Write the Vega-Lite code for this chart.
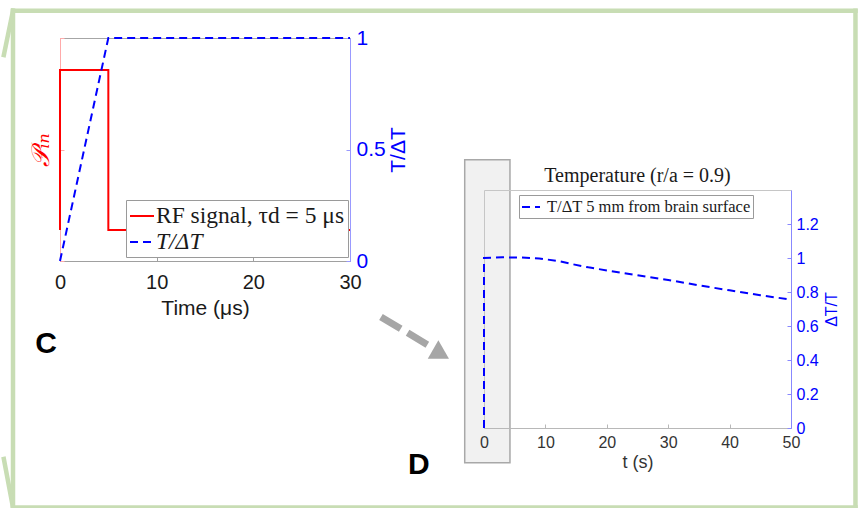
{
  "$schema": "https://vega.github.io/schema/vega-lite/v6.json",
  "background": "white",
  "padding": {"left": 0, "top": 7, "right": 0, "bottom": 0},
  "config": {
    "view": {"stroke": null},
    "axis": {"grid": false, "labelFont": "Liberation Sans", "titleFont": "Liberation Sans", "labelFlush": false, "labelOverlap": false, "titleFontWeight": "normal"}
  },
  "datasets": {
    "rf": [
      {"i": 0, "t": 0, "p": 0.139, "s": "RF signal, τd = 5 μs"},
      {"i": 1, "t": 0, "p": 0.856, "s": "RF signal, τd = 5 μs"},
      {"i": 2, "t": 5, "p": 0.856, "s": "RF signal, τd = 5 μs"},
      {"i": 3, "t": 5, "p": 0.139, "s": "RF signal, τd = 5 μs"},
      {"i": 4, "t": 30, "p": 0.139, "s": "RF signal, τd = 5 μs"}
    ],
    "tc": [
      {"i": 0, "t": 0, "v": 0, "s": "T/ΔT"},
      {"i": 1, "t": 5, "v": 1, "s": "T/ΔT"},
      {"i": 2, "t": 30, "v": 1, "s": "T/ΔT"}
    ],
    "td": [
      {"i": 0, "t": 0, "v": 0, "s": "T/ΔT 5 mm from brain surface"},
      {"i": 1, "t": 0, "v": 1.0, "s": "T/ΔT 5 mm from brain surface"},
      {"i": 2, "t": 3, "v": 1.004, "s": "T/ΔT 5 mm from brain surface"},
      {"i": 3, "t": 6, "v": 1.003, "s": "T/ΔT 5 mm from brain surface"},
      {"i": 4, "t": 9, "v": 0.997, "s": "T/ΔT 5 mm from brain surface"},
      {"i": 5, "t": 12, "v": 0.983, "s": "T/ΔT 5 mm from brain surface"},
      {"i": 6, "t": 14.5, "v": 0.963, "s": "T/ΔT 5 mm from brain surface"},
      {"i": 7, "t": 17, "v": 0.945, "s": "T/ΔT 5 mm from brain surface"},
      {"i": 8, "t": 20, "v": 0.927, "s": "T/ΔT 5 mm from brain surface"},
      {"i": 9, "t": 25, "v": 0.898, "s": "T/ΔT 5 mm from brain surface"},
      {"i": 10, "t": 30, "v": 0.871, "s": "T/ΔT 5 mm from brain surface"},
      {"i": 11, "t": 35, "v": 0.839, "s": "T/ΔT 5 mm from brain surface"},
      {"i": 12, "t": 40, "v": 0.81, "s": "T/ΔT 5 mm from brain surface"},
      {"i": 13, "t": 45, "v": 0.781, "s": "T/ΔT 5 mm from brain surface"},
      {"i": 14, "t": 50, "v": 0.755, "s": "T/ΔT 5 mm from brain surface"}
    ],
    "frame": [
      {"t": -76.71, "v": 2.455, "t2": 60.5, "v2": 2.455},
      {"t": 60.5, "v": 2.455, "t2": 60.5, "v2": -0.468},
      {"t": -76.71, "v": -0.468, "t2": 60.5, "v2": -0.468},
      {"t": -76.71, "v": 2.455, "t2": -76.71, "v2": -0.468},
      {"t": -76.71, "v": 2.455, "t2": -78.2, "v2": 2.194},
      {"t": -78.2, "v": -0.182, "t2": -76.71, "v2": -0.468}
    ],
    "arrow": [{"t": -16.78, "v": 0.653, "t2": -9.12, "v2": 0.488}],
    "head": [{"t": -7.0, "v": 0.435}],
    "zoombox": [{"t": -3.14, "t2": 4.23, "v": -0.204, "v2": 1.578}],
    "letters": [
      {"t": -71.33, "v": 0.494, "lab": "C"},
      {"t": -10.6, "v": -0.218, "lab": "D"}
    ]
  },
  "bounds": "flush",
  "spacing": 134,
  "resolve": {"scale": {"color": "independent", "strokeDash": "independent", "x": "independent", "y": "independent"}},
  "hconcat": [
    {
      "width": 290,
      "height": 223,
      "view": {"stroke": "#a6a6a6", "strokeWidth": 1},
      "resolve": {"scale": {"y": "independent"}},
      "layer": [
        {
          "data": {"name": "rf"},
          "mark": {"type": "line", "strokeWidth": 2},
          "encoding": {
            "x": {"field": "t", "type": "quantitative", "scale": {"domain": [0, 30], "nice": false},
              "axis": {"orient": "bottom", "values": [0, 10, 20, 30], "format": "d", "labelFontSize": 20, "labelColor": "#1a1a1a", "labelOverlap": false, "domainColor": "#a0a0a0", "tickColor": "#a0a0a0", "tickSize": -4, "labelPadding": 15, "title": "Time (μs)", "titleFontSize": 21, "titleColor": "#1a1a1a", "titlePadding": 5}},
            "y": {"field": "p", "type": "quantitative", "scale": {"domain": [0, 1], "nice": false},
              "axis": {"orient": "left", "values": [0, 0.5, 1], "labels": false, "tickSize": -4, "domainColor": "#ffaaaa", "tickColor": "#ffaaaa", "title": "𝒫ᵢₙ", "titleColor": "#ff0000", "titleFont": "DejaVu Serif", "titleFontStyle": "italic", "titleFontSize": 25, "titlePadding": 6}},
            "order": {"field": "i", "type": "quantitative"},
            "color": {"field": "s", "type": "nominal", "scale": {"domain": ["RF signal, τd = 5 μs", "T/ΔT"], "range": ["#ff0000", "#0000ff"]},
              "legend": {"title": null, "orient": "none", "legendX": 66, "legendY": 162, "symbolType": "stroke", "symbolSize": 576, "symbolStrokeWidth": 2, "labelFont": "Liberation Serif", "labelFontSize": 23.5, "labelColor": "#1a1a1a", "labelLimit": 500, "labelOffset": 1, "padding": 3, "rowPadding": 1, "strokeColor": "#9a9a9a", "fillColor": "#ffffff",
                "encode": {"labels": {"update": {"fontStyle": {"signal": "datum.label === 'T/ΔT' ? 'italic' : 'normal'"}}}}}},
            "strokeDash": {"field": "s", "type": "nominal", "scale": {"domain": ["RF signal, τd = 5 μs", "T/ΔT"], "range": [[1, 0], [8, 5]]},
              "legend": {"title": null, "orient": "none", "legendX": 66, "legendY": 162, "symbolType": "stroke", "symbolSize": 576, "symbolStrokeWidth": 2, "labelFont": "Liberation Serif", "labelFontSize": 23.5, "labelColor": "#1a1a1a", "labelLimit": 500, "labelOffset": 1, "padding": 3, "rowPadding": 1, "strokeColor": "#9a9a9a", "fillColor": "#ffffff"}}
          }
        },
        {
          "data": {"name": "tc"},
          "mark": {"type": "line", "strokeWidth": 2},
          "encoding": {
            "x": {"field": "t", "type": "quantitative", "scale": {"domain": [0, 30], "nice": false}},
            "y": {"field": "v", "type": "quantitative", "scale": {"domain": [0, 1], "nice": false},
              "axis": {"orient": "right", "values": [0, 0.5, 1], "format": "~g", "labelFontSize": 21, "labelColor": "#0000ff", "labelOverlap": false, "domainColor": "#9999ff", "tickColor": "#9999ff", "tickSize": -4, "labelPadding": 10, "title": "T/ΔT", "titleColor": "#0000ff", "titleFontSize": 21, "titleAngle": 270, "titleBaseline": "top", "titlePadding": 2}},
            "order": {"field": "i", "type": "quantitative"},
            "color": {"field": "s", "type": "nominal"},
            "strokeDash": {"field": "s", "type": "nominal"}
          }
        }
      ]
    },
    {
      "bounds": "flush",
      "spacing": 0,
      "resolve": {"scale": {"color": "independent", "strokeDash": "independent"}},
      "vconcat": [
        {
          "width": 307,
          "height": 152,
          "layer": [
            {
              "data": {"name": "frame"},
              "mark": {"type": "rule", "color": "#c8ddb4", "strokeWidth": 4.5, "strokeCap": "square"},
              "encoding": {
                "x": {"field": "t", "type": "quantitative", "scale": {"domain": [0, 50], "nice": false}, "axis": null},
                "x2": {"field": "t2"},
                "y": {"field": "v", "type": "quantitative", "scale": {"domain": [1.4, 2.29412], "nice": false, "zero": false}, "axis": null},
                "y2": {"field": "v2"}
              }
            },
            {
              "data": {"name": "zoombox"},
              "mark": {"type": "rect", "fill": "#d0d0d0", "fillOpacity": 0.3, "stroke": "#a8a8a8", "strokeWidth": 1.5},
              "encoding": {
                "x": {"field": "t", "type": "quantitative", "axis": null},
                "x2": {"field": "t2"},
                "y": {"field": "v", "type": "quantitative", "axis": null},
                "y2": {"field": "v2"}
              }
            },
            {
              "data": {"name": "arrow"},
              "mark": {"type": "rule", "color": "#a6a6a6", "strokeWidth": 7, "strokeDash": [23, 8]},
              "encoding": {
                "x": {"field": "t", "type": "quantitative", "axis": null},
                "x2": {"field": "t2"},
                "y": {"field": "v", "type": "quantitative", "axis": null},
                "y2": {"field": "v2"}
              }
            },
            {
              "data": {"name": "head"},
              "mark": {"type": "point", "shape": "triangle-right", "filled": true, "color": "#a6a6a6", "opacity": 1, "size": 450, "angle": 30},
              "encoding": {
                "x": {"field": "t", "type": "quantitative", "axis": null},
                "y": {"field": "v", "type": "quantitative", "axis": null}
              }
            },
            {
              "data": {"name": "letters"},
              "mark": {"type": "text", "font": "Liberation Sans", "fontSize": 30, "fontWeight": "bold", "color": "#000000", "align": "center", "baseline": "middle"},
              "encoding": {
                "x": {"field": "t", "type": "quantitative", "axis": null},
                "y": {"field": "v", "type": "quantitative", "axis": null},
                "text": {"field": "lab"}
              }
            }
          ]
        },
        {
          "width": 307,
          "height": 238,
          "view": {"stroke": "#c6c6c6"},
          "title": {"text": "Temperature (r/a = 0.9)", "frame": "group", "font": "Liberation Serif", "fontSize": 20, "fontWeight": "normal", "color": "#1a1a1a", "offset": 4, "anchor": "middle"},
          "data": {"name": "td"},
          "mark": {"type": "line", "strokeWidth": 2},
          "encoding": {
            "x": {"field": "t", "type": "quantitative", "scale": {"domain": [0, 50], "nice": false},
              "axis": {"orient": "bottom", "values": [0, 10, 20, 30, 40, 50], "format": "d", "labelFontSize": 16, "labelColor": "#333333", "labelOverlap": false, "domainColor": "#b8b8b8", "tickColor": "#b8b8b8", "tickSize": -4, "labelPadding": 10, "title": "t (s)", "titleFontSize": 18, "titleColor": "#333333", "titlePadding": 3}},
            "y": {"field": "v", "type": "quantitative", "scale": {"domain": [0, 1.4], "nice": false},
              "axis": {"orient": "right", "values": [0, 0.2, 0.4, 0.6, 0.8, 1, 1.2], "format": "~g", "labelFontSize": 16, "labelColor": "#0000ff", "labelOverlap": false, "labelBound": false, "domainColor": "#8888ff", "tickColor": "#8888ff", "tickSize": -4, "labelPadding": 9, "title": "ΔT/T", "titleColor": "#0000ff", "titleFontSize": 16, "titleAngle": 270, "titleBaseline": "top", "titlePadding": 5}},
            "order": {"field": "i", "type": "quantitative"},
            "color": {"field": "s", "type": "nominal", "scale": {"domain": ["T/ΔT 5 mm from brain surface"], "range": ["#0000ff"]},
              "legend": {"title": null, "orient": "none", "legendX": 35, "legendY": 5, "symbolType": "stroke", "symbolSize": 324, "symbolStrokeWidth": 2, "labelFont": "Liberation Serif", "labelFontSize": 16.5, "labelColor": "#1a1a1a", "labelLimit": 500, "labelOffset": 6, "padding": 2, "strokeColor": "#9a9a9a", "fillColor": "#ffffff"}},
            "strokeDash": {"field": "s", "type": "nominal", "scale": {"domain": ["T/ΔT 5 mm from brain surface"], "range": [[8, 5]]},
              "legend": {"title": null, "orient": "none", "legendX": 35, "legendY": 5, "symbolType": "stroke", "symbolSize": 324, "symbolStrokeWidth": 2, "labelFont": "Liberation Serif", "labelFontSize": 16.5, "labelColor": "#1a1a1a", "labelLimit": 500, "labelOffset": 6, "padding": 2, "strokeColor": "#9a9a9a", "fillColor": "#ffffff"}}
          }
        }
      ]
    }
  ]
}
